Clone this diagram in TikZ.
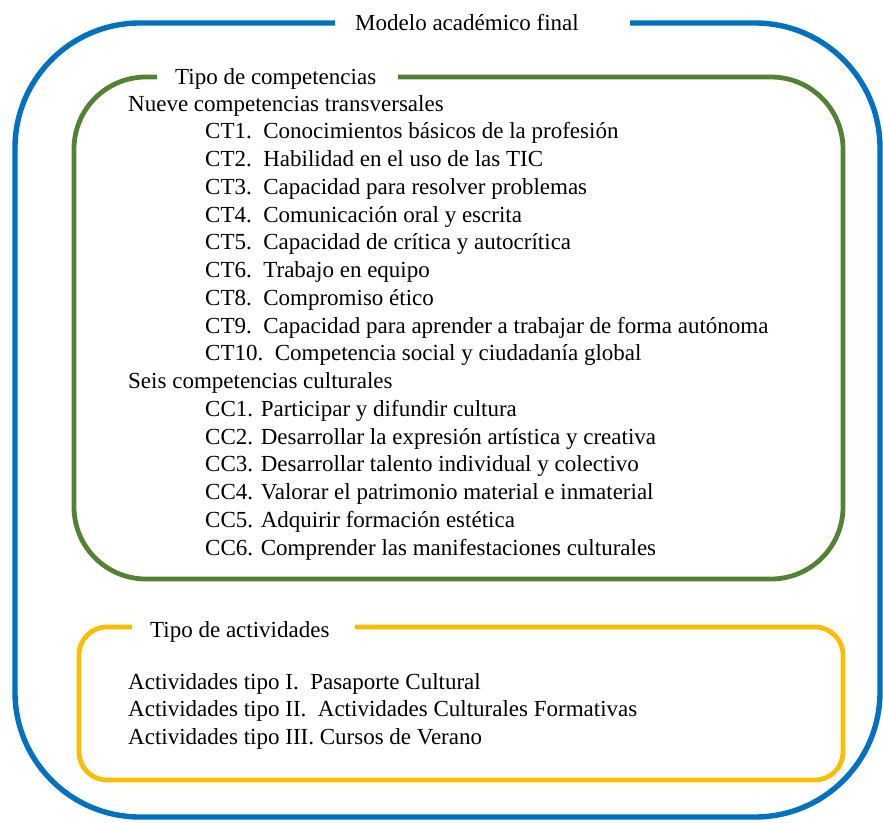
\documentclass[tikz,border=0pt]{standalone}
\usepackage{fontspec}
\setmainfont{Liberation Serif}
\definecolor{frameblue}{RGB}{0,112,192}
\definecolor{framegreen}{RGB}{84,130,53}
\definecolor{frameyellow}{RGB}{250,190,0}
\begin{document}
\begin{tikzpicture}[x=1pt,y=-1pt,
  txt/.style={anchor=base west,inner sep=0pt,font=\fontsize{23}{27.6}\selectfont,text=black},
  frame/.style={line width=4.8pt,line cap=butt}]
\useasboundingbox (0,0) rectangle (883,822);
% outer blue frame
\draw[frame,line width=5.4pt,frameblue,rounded corners=125] (630,23) -- (880,23) -- (880,817) -- (15,817) -- (15,23) -- (335,23);
% green frame
\draw[frame,framegreen,rounded corners=72] (398,77) -- (843,77) -- (843,579) -- (74,579) -- (74,77) -- (157,77);
% yellow frame
\draw[frame,frameyellow,rounded corners=28] (355,627) -- (843,627) -- (843,780) -- (79,780) -- (79,627) -- (132,627);
% titles
\node[txt] (t0) at (355,30) {Modelo académico final};
\node[txt] (t1) at (175,84) {Tipo de competencias};
\node[txt] (t2) at (150,637) {Tipo de actividades};
% competencias
\node[txt] (h1) at (128,111) {Nueve competencias transversales};
\node[txt] (ct1) at (205,138.75) {CT1.~~Conocimientos básicos de la profesión};
\node[txt] (ct2) at (205,166.5) {CT2.~~Habilidad en el uso de las TIC};
\node[txt] (ct3) at (205,194.25) {CT3.~~Capacidad para resolver problemas};
\node[txt] (ct4) at (205,222) {CT4.~~Comunicación oral y escrita};
\node[txt] (ct5) at (205,249.75) {CT5.~~Capacidad de crítica y autocrítica};
\node[txt] (ct6) at (205,277.5) {CT6.~~Trabajo en equipo};
\node[txt] (ct8) at (205,305.25) {CT8.~~Compromiso ético};
\node[txt] (ct9) at (205,333) {CT9.~~Capacidad para aprender a trabajar de forma autónoma};
\node[txt] (ct10) at (205,360.75) {CT10.~~Competencia social y ciudadanía global};
\node[txt] (h2) at (128,388.5) {Seis competencias culturales};
\node[txt] (cc1) at (205,416.25) {CC1. Participar y difundir cultura};
\node[txt] (cc2) at (205,444) {CC2. Desarrollar la expresión artística y creativa};
\node[txt] (cc3) at (205,471.75) {CC3. Desarrollar talento individual y colectivo};
\node[txt] (cc4) at (205,499.5) {CC4. Valorar el patrimonio material e inmaterial};
\node[txt] (cc5) at (205,527.25) {CC5. Adquirir formación estética};
\node[txt] (cc6) at (205,555) {CC6. Comprender las manifestaciones culturales};
% actividades
\node[txt] (a1) at (128,689) {Actividades tipo I.~~Pasaporte Cultural};
\node[txt] (a2) at (128,716.5) {Actividades tipo II.~~Actividades Culturales Formativas};
\node[txt] (a3) at (128,744) {Actividades tipo III. Cursos de Verano};
\end{tikzpicture}
\end{document}
